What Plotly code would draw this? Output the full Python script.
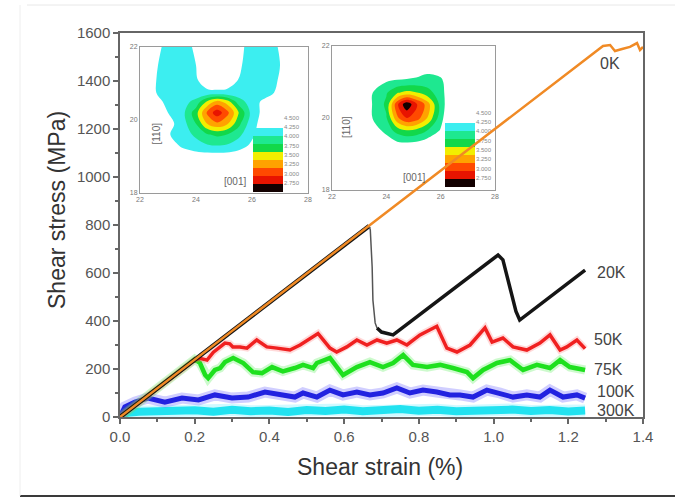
import plotly.graph_objects as go

# ---------------- stress-strain curves (shear strain %, shear stress MPa) ----------------
strain_0k = [0.0, 1.293, 1.312, 1.325, 1.344, 1.365, 1.384, 1.392, 1.4]
stress_0k = [0, 1546, 1550, 1525, 1533, 1542, 1558, 1529, 1542]

strain_20k = [0.0, 0.667, 0.670, 0.675, 0.677, 0.683, 0.688, 0.70, 0.731,
              1.012, 1.025, 1.045, 1.06, 1.07, 1.245]
stress_20k = [0, 796, 780, 625, 487, 392, 371, 354, 342,
              675, 655, 540, 440, 404, 612]

strain_50k = [0.0, 0.2, 0.214, 0.233, 0.25, 0.268, 0.281, 0.294, 0.302, 0.321,
              0.34, 0.366, 0.393, 0.42, 0.455, 0.482, 0.509, 0.53, 0.544, 0.562,
              0.58, 0.607, 0.634, 0.661, 0.688, 0.714, 0.741, 0.768, 0.803, 0.848,
              0.875, 0.902, 0.937, 0.977, 0.996, 1.025, 1.052, 1.089, 1.124, 1.151,
              1.178, 1.196, 1.223, 1.245]
stress_50k = [0, 238, 245, 237, 270, 292, 308, 305, 292, 292,
              287, 321, 292, 287, 279, 300, 329, 348, 321, 287,
              271, 292, 321, 300, 321, 308, 321, 300, 342, 378,
              287, 271, 300, 371, 312, 329, 292, 279, 308, 342,
              279, 292, 321, 285]

strain_75k = [0.0, 0.19, 0.2, 0.214, 0.228, 0.236, 0.254, 0.268, 0.281, 0.303,
              0.33, 0.356, 0.38, 0.407, 0.436, 0.468, 0.49, 0.517, 0.527, 0.562,
              0.597, 0.634, 0.669, 0.704, 0.731, 0.758, 0.784, 0.822, 0.857, 0.891,
              0.929, 0.945, 0.972, 1.009, 1.044, 1.079, 1.116, 1.151, 1.178, 1.204,
              1.245]
stress_75k = [0, 228, 240, 225, 175, 162, 196, 204, 229, 246,
              225, 187, 183, 208, 190, 204, 217, 204, 225, 246,
              175, 208, 229, 208, 225, 258, 217, 208, 217, 204,
              187, 162, 196, 225, 237, 196, 217, 204, 237, 208,
              196]

strain_100k = [0.0, 0.013, 0.04, 0.075, 0.12, 0.166, 0.21, 0.254, 0.30, 0.343,
               0.388, 0.434, 0.468, 0.49, 0.527, 0.562, 0.597, 0.634, 0.669, 0.704,
               0.741, 0.776, 0.811, 0.848, 0.883, 0.91, 0.945, 0.982, 1.017, 1.052,
               1.089, 1.124, 1.151, 1.186, 1.223, 1.245]
stress_100k = [0, 42, 62, 79, 62, 79, 71, 92, 79, 83,
               104, 92, 83, 100, 83, 112, 92, 104, 92, 100,
               121, 100, 112, 104, 92, 92, 83, 112, 100, 83,
               92, 83, 112, 83, 92, 79]

strain_300k = [0.0, 0.02, 0.05, 0.1, 0.15, 0.2, 0.25, 0.3, 0.35, 0.4,
               0.45, 0.5, 0.55, 0.6, 0.65, 0.7, 0.75, 0.8, 0.85, 0.9,
               0.95, 1.0, 1.05, 1.1, 1.15, 1.2, 1.245]
stress_300k = [0, 18, 22, 25, 20, 28, 22, 30, 24, 27,
               21, 29, 25, 31, 24, 28, 33, 26, 30, 24,
               29, 27, 31, 25, 29, 23, 27]

curve_labels = ["0K", "20K", "50K", "75K", "100K", "300K"]

# ---------------- contour maps ([001] vs [110]) ----------------
map_x = [22, 22.5, 23, 23.5, 24, 24.4, 24.75, 25.1, 25.5, 26, 26.5, 27, 27.5, 28]

map1_y = [18, 18.5, 19, 19.3, 19.6, 19.9, 20.2, 20.5, 20.75, 21.1, 21.5, 22]
map1_z = [
    [0, 0, 0, 0, 0, 0, 0, 0, 0, 0, 0, 0, 0, 0],
    [0, 0, 0, 0, 0, 0, 0, 0, 0, 0, 0, 0, 0, 0],
    [0, 0, 0, 0.2, 0.5, 0.5, 0.5, 0.5, 0.4, 0.2, 0, 0, 0, 0],
    [0, 0, 0.3, 1.2, 1.6, 1.9, 2.0, 1.9, 1.5, 0.8, 0, 0, 0, 0],
    [0, 0, 0.9, 1.5, 2.2, 2.9, 3.2, 3.0, 2.3, 1.2, 0.2, 0, 0, 0],
    [0, 0, 0.6, 1.5, 3.0, 5.0, 5.8, 5.2, 3.4, 1.3, 0.5, 0, 0, 0],
    [0, 0, 1.0, 1.6, 3.6, 6.2, 7.6, 6.4, 4.2, 1.6, 0.5, 0, 0, 0],
    [0, 0.5, 1.3, 1.6, 2.3, 4.2, 5.4, 4.6, 2.6, 1.4, 0.7, 0, 0, 0],
    [0, 0.9, 1.5, 1.5, 1.4, 1.2, 1.2, 1.2, 1.3, 1.5, 1.4, 0.7, 0, 0],
    [0, 0.9, 1.5, 1.5, 1.1, 0.5, 0.3, 0.5, 1.0, 1.5, 1.5, 0.9, 0, 0],
    [0, 0.8, 1.5, 1.5, 1.0, 0.2, 0, 0, 0.8, 1.5, 1.5, 1.0, 0.2, 0],
    [0, 0.4, 1.5, 1.5, 0.8, 0, 0, 0, 0.6, 1.5, 1.5, 0.9, 0, 0],
]

map2_y = [18, 18.5, 19, 19.3, 19.65, 20.0, 20.38, 20.7, 21.0, 21.3, 21.6, 22]
map2_z = [
    [0, 0, 0, 0, 0, 0, 0, 0, 0, 0, 0, 0, 0, 0],
    [0, 0, 0, 0, 0, 0, 0, 0, 0, 0, 0, 0, 0, 0],
    [0, 0, 0, 0, 0, 0, 0, 0, 0, 0, 0, 0, 0, 0],
    [0, 0, 0, 0.3, 1.2, 1.8, 1.9, 1.8, 1.4, 0.4, 0, 0, 0, 0],
    [0, 0, 0, 1.3, 2.4, 3.4, 3.9, 3.7, 3.0, 1.9, 0, 0, 0, 0],
    [0, 0, 0, 2.05, 2.9, 5.8, 7.0, 6.6, 5.0, 2.4, 0.3, 0, 0, 0],
    [0, 0, 0, 2.1, 3.2, 6.8, 8.8, 7.2, 5.6, 2.6, 0.6, 0, 0, 0],
    [0, 0, 0, 2.0, 2.9, 3.9, 4.3, 4.1, 3.4, 2.5, 0.6, 0, 0, 0],
    [0, 0, 0, 1.0, 2.0, 2.3, 2.4, 2.5, 2.6, 2.4, 0.3, 0, 0, 0],
    [0, 0, 0, 0, 0.5, 0.8, 1.0, 1.3, 1.8, 1.5, 0, 0, 0, 0],
    [0, 0, 0, 0, 0, 0, 0, 0, 0, 0, 0, 0, 0, 0],
    [0, 0, 0, 0, 0, 0, 0, 0, 0, 0, 0, 0, 0, 0],
]

# colour-key labels, top to bottom
key_labels = ["4.500", "4.250", "4.000", "3.750", "3.500", "3.250", "3.000", "2.750"]

# ---------------- geometry helpers ----------------
W, H = 675, 497
L, R, T, B = 120, 32, 33, 80


def fx(px):
    return (px - L) / (W - L - R)


def fy(py):
    return (H - B - py) / (H - T - B)


FONT = "Liberation Sans, Arial, sans-serif"

# band colours, lowest level first (below 1 is empty)
band_colors = ["rgba(255,255,255,0)", "#3ceef0", "#1ee890", "#12d84a",
               "#f2ee00", "#ffa200", "#ff4a00", "#e81400", "#120000"]


def band_scale(colors):
    n = 8
    scale = []
    for k in range(n):
        scale.append([k / n, colors[k]])
        scale.append([(k + 1) / n if k < n - 1 else 0.98, colors[k]])
    scale.append([0.98, colors[8]])
    scale.append([1.0, colors[8]])
    return scale


scale1 = band_scale(band_colors)
scale2 = band_scale(["rgba(255,255,255,0)", "rgba(255,255,255,0)"] + band_colors[2:])

key_colors = [band_colors[8], band_colors[7], band_colors[6], band_colors[5],
              band_colors[4], band_colors[3], band_colors[2], band_colors[1]]
key_scale = []
for i, c in enumerate(key_colors):
    key_scale.append([i / 8, c])
    key_scale.append([(i + 1) / 8, c])

fig = go.Figure()

contour_opts = dict(contours=dict(start=1, end=8, size=1, coloring="fill", showlines=False),
                    line=dict(width=0, smoothing=1), showscale=False, hoverinfo="skip")
fig.add_trace(go.Contour(x=map_x, y=map1_y, z=map1_z, colorscale=scale1,
                         xaxis="x", yaxis="y", **contour_opts))
fig.add_trace(go.Contour(x=map_x, y=map2_y, z=map2_z, colorscale=scale2,
                         xaxis="x2", yaxis="y2", **contour_opts))

key_z = [[i] for i in range(8)]
for ax in ("3", "4"):
    fig.add_trace(go.Heatmap(z=key_z, x=[0], y=list(range(8)), colorscale=key_scale,
                             zmin=-0.5, zmax=7.5, showscale=False, hoverinfo="skip",
                             xaxis="x" + ax, yaxis="y" + ax))


def curve(x, y, color, width, opacity=1.0):
    fig.add_trace(go.Scatter(x=x, y=y, mode="lines", xaxis="x5", yaxis="y5",
                             line=dict(color=color, width=width), opacity=opacity,
                             hoverinfo="skip", showlegend=False))


curve(strain_300k, stress_300k, "#8cf2ff", 12, 0.4)
curve(strain_300k, stress_300k, "#22e2f0", 8)
curve(strain_100k, stress_100k, "#7a74ff", 11, 0.35)
curve(strain_100k, stress_100k, "#2222e0", 5)
curve(strain_75k, stress_75k, "#5cf05c", 9, 0.3)
curve(strain_75k, stress_75k, "#1ee01e", 4.5)
curve(strain_50k, stress_50k, "#ff6a6a", 7, 0.25)
curve(strain_50k, stress_50k, "#f02020", 3.5)

# 20K: loading branch, sudden drop, reloading branches
curve(strain_20k[:2], stress_20k[:2], "#151515", 4.5)
curve(strain_20k[1:7], stress_20k[1:7], "#555555", 1.5)
curve(strain_20k[6:], stress_20k[6:], "#151515", 3.5)
curve(strain_0k, stress_0k, "#f08a25", 2.5)

# curve labels
label_x = [1.279, 1.271, 1.263, 1.263, 1.271, 1.271]
label_y = [1475, 604, 321, 196, 108, 29]
annotations = []
for t, x, y in zip(curve_labels, label_x, label_y):
    annotations.append(dict(text=t, x=x, y=y, xref="x5", yref="y5", showarrow=False,
                            xanchor="left", yanchor="middle",
                            font=dict(family=FONT, size=16, color="#444")))

# axis titles
annotations.append(dict(text="Shear stress (MPa)", x=fx(57), y=fy(210), xref="paper", yref="paper",
                        showarrow=False, textangle=-90, xanchor="center", yanchor="middle",
                        font=dict(family=FONT, size=23, color="#333")))
annotations.append(dict(text="Shear strain (%)", x=fx(380), y=fy(467), xref="paper", yref="paper",
                        showarrow=False, xanchor="center", yanchor="middle",
                        font=dict(family=FONT, size=23, color="#333")))

# inset axis names
for (px, py) in [(222, 181), (414, 177)]:
    annotations.append(dict(text="[001]", x=fx(px), y=fy(py), xref="paper", yref="paper",
                            showarrow=False, font=dict(family=FONT, size=10, color="#666")))
for (px, py) in [(148, 121), (346, 114)]:
    annotations.append(dict(text="[110]", x=fx(px), y=fy(py), xref="paper", yref="paper",
                            showarrow=False, textangle=-90,
                            font=dict(family=FONT, size=10, color="#666")))

inset_axis = dict(showline=True, mirror=True, linecolor="#9a9a9a", linewidth=1,
                  ticks="", showgrid=False, zeroline=False,
                  tickfont=dict(family=FONT, size=7, color="#777"))

key_axis_x = dict(range=[-0.5, 0.5], visible=False)
key_tickvals = [8.81, 7.64, 6.47, 5.30, 4.13, 2.96, 1.79, 0.63]
key_axis_y = dict(range=[-0.5, 9.2], side="right", tickvals=key_tickvals, ticktext=key_labels,
                  ticks="", showgrid=False, zeroline=False, showline=False,
                  tickfont=dict(family=FONT, size=6, color="#888"))

main_tick = dict(ticks="outside", ticklen=5, tickwidth=1.5, tickcolor="#666",
                 showline=True, linecolor="#666", linewidth=1.5, mirror=True,
                 showgrid=False, zeroline=False,
                 tickfont=dict(family=FONT, size=15, color="#555"))

frame_x0, frame_x1 = fx(20), fx(675)
frame_top, frame_bot = fy(5), fy(496)
shapes = [
    dict(type="line", xref="paper", yref="paper", x0=frame_x0, x1=frame_x1,
         y0=frame_bot, y1=frame_bot, line=dict(color="#3a3a3a", width=2)),
    dict(type="line", xref="paper", yref="paper", x0=fx(27), x1=frame_x1,
         y0=frame_top, y1=frame_top, line=dict(color="#e8e8e8", width=1)),
    dict(type="line", xref="paper", yref="paper", x0=frame_x0, x1=frame_x0,
         y0=frame_bot, y1=frame_top, line=dict(color="#eeeeee", width=1)),
]

fig.update_layout(
    width=W, height=H,
    margin=dict(l=L, r=R, t=T, b=B, pad=0),
    paper_bgcolor="white", plot_bgcolor="rgba(0,0,0,0)",
    showlegend=False,
    font=dict(family=FONT),
    xaxis=dict(domain=[fx(140), fx(308)], range=[22, 28], anchor="y",
               tickvals=[22, 24, 26, 28], **inset_axis),
    yaxis=dict(domain=[fy(193), fy(47)], range=[18, 22], anchor="x",
               tickvals=[18, 20, 22], **inset_axis),
    xaxis2=dict(domain=[fx(332), fx(495)], range=[22, 28], anchor="y2",
                tickvals=[22, 24, 26, 28], **inset_axis),
    yaxis2=dict(domain=[fy(190), fy(46)], range=[18, 22], anchor="x2",
                tickvals=[18, 20, 22], **inset_axis),
    xaxis3=dict(domain=[fx(253), fx(283)], anchor="y3", **key_axis_x),
    yaxis3=dict(domain=[fy(192), fy(192 - 77.6)], anchor="x3", **key_axis_y),
    xaxis4=dict(domain=[fx(445), fx(475)], anchor="y4", **key_axis_x),
    yaxis4=dict(domain=[fy(187), fy(187 - 77.6)], anchor="x4", **key_axis_y),
    xaxis5=dict(domain=[0, 1], range=[0, 1.4], anchor="y5", tick0=0, dtick=0.2,
                tickformat=".1f",
                minor=dict(dtick=0.1, ticks="outside", ticklen=3, tickcolor="#666"),
                **main_tick),
    yaxis5=dict(domain=[0, 1], range=[0, 1600], anchor="x5", tick0=0, dtick=200,
                minor=dict(dtick=100, ticks="outside", ticklen=3, tickcolor="#666"),
                **main_tick),
    annotations=annotations,
    shapes=shapes,
)

fig.write_html("out.html")
